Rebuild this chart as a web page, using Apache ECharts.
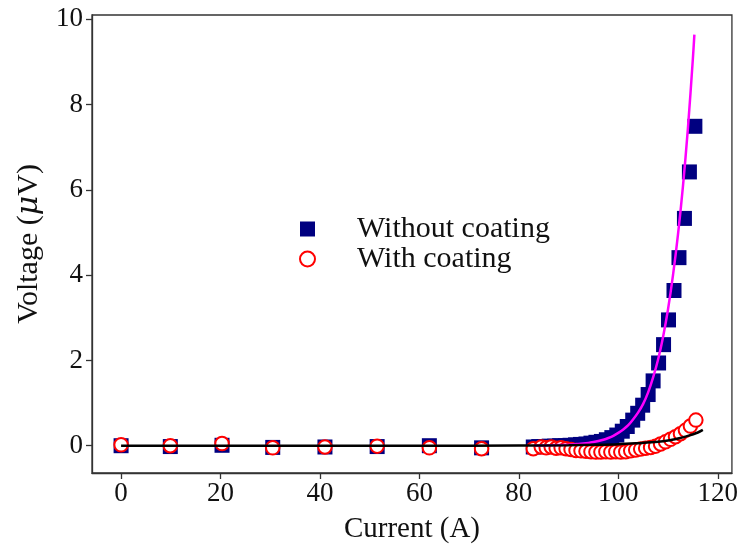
<!DOCTYPE html>
<html>
<head>
<meta charset="utf-8">
<script src="https://cdn.jsdelivr.net/npm/echarts@6/dist/echarts.min.js"></script>
<style>html,body{margin:0;padding:0;background:#fff}#c{width:741px;height:549px}</style>
</head>
<body>
<div id="c"></div>
<script>
// ---- Data ----
const noCoatCurrent = [0, 9.9, 20.3, 30.5, 41.0, 51.5, 62.0, 72.5, 82.9,
  84.0, 85.1, 86.1, 87.2, 88.2, 89.3, 90.3, 91.4, 92.4, 93.5, 94.5, 95.5, 96.6, 97.6,
  98.7, 99.7, 100.8, 101.8, 102.9, 103.9, 104.9, 106.0, 107.0, 108.1, 109.1, 110.1,
  111.2, 112.2, 113.3, 114.3, 115.4];
const noCoatVoltage = [0.0, -0.02, 0.01, -0.04, -0.03, -0.02, 0.0, -0.05, -0.03,
  -0.02, -0.02, -0.01, -0.01, 0.0, 0.0, 0.01, 0.02, 0.03, 0.04, 0.06, 0.08, 0.10, 0.14,
  0.19, 0.25, 0.34, 0.45, 0.60, 0.76, 0.95, 1.20, 1.52, 1.94, 2.37, 2.95,
  3.64, 4.41, 5.33, 6.42, 7.49];

const coatCurrent = [0, 9.9, 20.3, 30.5, 41.0, 51.5, 62.0, 72.5, 82.9,
  84.5, 85.5, 86.5, 87.5, 88.5, 89.5, 90.5, 91.5, 92.5, 93.5, 94.5, 95.5, 96.5, 97.5,
  98.5, 99.5, 100.5, 101.5, 102.5, 103.5, 104.5, 105.5, 106.5, 107.5, 108.5, 109.5,
  110.5, 111.5, 112.5, 113.5, 114.5, 115.6];
const coatVoltage = [0.02, 0.0, 0.05, -0.05, -0.03, -0.01, -0.05, -0.07, -0.07,
  -0.03, -0.05, -0.03, -0.06, -0.05, -0.07, -0.09, -0.11, -0.12, -0.13, -0.14, -0.15, -0.15, -0.14,
  -0.15, -0.14, -0.15, -0.14, -0.12, -0.10, -0.08, -0.06, -0.04, -0.01, 0.04, 0.09,
  0.15, 0.21, 0.28, 0.36, 0.46, 0.60];

const fitNoCoatCurrent = [83, 84, 86, 88, 90, 92, 94, 95, 96, 97, 98, 99, 100, 101, 102,
  103, 104, 105, 106, 107, 108, 109, 110, 111, 112, 113, 114, 115, 115.3];
const fitNoCoatVoltage = [0.004, 0.005, 0.01, 0.015, 0.025, 0.04, 0.065, 0.085, 0.11, 0.14, 0.18, 0.23, 0.30, 0.38, 0.48,
  0.62, 0.78, 0.98, 1.25, 1.60, 2.02, 2.55, 3.20, 4.00, 4.95, 6.08, 7.44, 9.08, 9.64];

const fitCoatCurrent = [0, 20, 40, 60, 80, 90, 95, 100, 104, 108, 110, 112, 114, 116, 117];
const fitCoatVoltage = [0, 0, 0, 0, 0.005, 0.01, 0.02, 0.035, 0.06, 0.09, 0.12, 0.17, 0.23, 0.31, 0.37];

const xTicks = [0, 20, 40, 60, 80, 100, 120];
const yTicks = [0, 2, 4, 6, 8, 10];

const seriesNames = ['Without coating', 'With coating'];
const xTitle = 'Current (A)';

// ---- Build chart ----
const zip = (a, b) => a.map((v, i) => [v, b[i]]);
const FONT = '"Liberation Serif", "Times New Roman", serif';

const chart = echarts.init(document.getElementById('c'), null, {renderer: 'canvas'});
chart.setOption({
  animation: false,
  backgroundColor: '#ffffff',
  grid: {left: 92, right: 9, top: 15, bottom: 76, show: true, borderColor: '#333', borderWidth: 1.3, containLabel: false},
  legend: {
    data: seriesNames,
    orient: 'vertical',
    left: 294, top: 209,
    itemWidth: 15, itemHeight: 15, itemGap: 0,
    textStyle: {fontFamily: FONT, fontSize: 30, color: '#111', padding: [0, 0, 0, 37]}
  },
  xAxis: {
    type: 'value', min: -5.85, max: 122.85,
    name: xTitle, nameLocation: 'middle', nameGap: 42,
    nameTextStyle: {fontFamily: FONT, fontSize: 29, color: '#111'},
    axisLine: {show: true, onZero: false, lineStyle: {color: '#333', width: 1.3}},
    axisTick: {show: true, length: 6, lineStyle: {color: '#333', width: 1.3}, customValues: xTicks},
    axisLabel: {fontFamily: FONT, fontSize: 27, color: '#111', margin: 7, customValues: xTicks},
    splitLine: {show: false}
  },
  yAxis: {
    type: 'value', min: -0.64, max: 10.1,
    name: 'Voltage ({i|μ}V)', nameLocation: 'middle', nameGap: 48,
    nameTextStyle: {fontFamily: FONT, fontSize: 30, color: '#111',
      rich: {i: {fontFamily: '"DejaVu Serif", serif', fontSize: 30, fontStyle: 'italic', color: '#111'}}},
    axisLine: {show: true, onZero: false, lineStyle: {color: '#333', width: 1.3}},
    axisTick: {show: true, length: 6, lineStyle: {color: '#333', width: 1.3}, customValues: yTicks},
    axisLabel: {fontFamily: FONT, fontSize: 27, color: '#111', margin: 9, customValues: yTicks},
    splitLine: {show: false}
  },
  series: [
    {name: seriesNames[0], type: 'scatter', symbol: 'rect', symbolSize: 15,
     itemStyle: {color: '#000080', opacity: 1}, data: zip(noCoatCurrent, noCoatVoltage), z: 2},
    {name: seriesNames[1], type: 'scatter', symbol: 'emptyCircle', symbolSize: 13.5,
     itemStyle: {color: '#ff0000', borderColor: '#ff0000', borderWidth: 1.4, opacity: 1}, data: zip(coatCurrent, coatVoltage), z: 3},
    {name: 'fit1', type: 'line', showSymbol: false, symbol: 'none', smooth: 0.3,
     lineStyle: {color: '#ff00ff', width: 2.5}, data: zip(fitNoCoatCurrent, fitNoCoatVoltage), z: 4},
    {name: 'fit2', type: 'line', showSymbol: false, symbol: 'none', smooth: 0.3,
     lineStyle: {color: '#000000', width: 2.5}, data: zip(fitCoatCurrent, fitCoatVoltage), z: 5}
  ]
});
</script>
</body>
</html>
